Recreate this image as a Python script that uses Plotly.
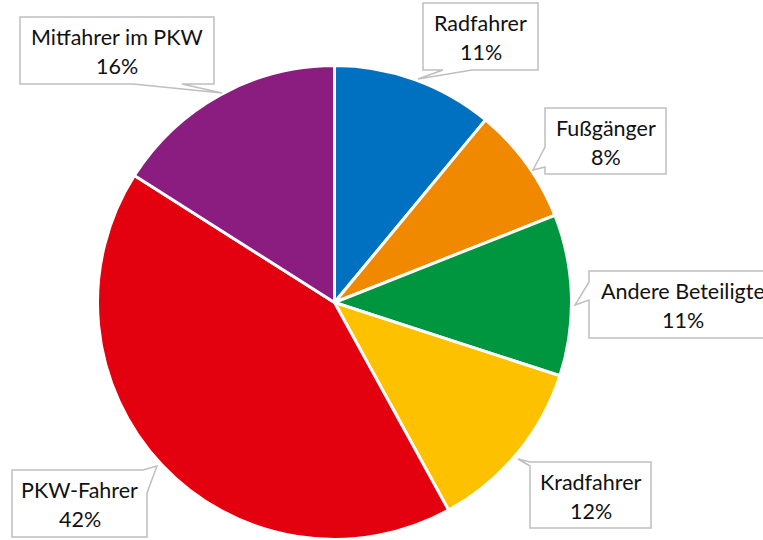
import plotly.graph_objects as go

# ---- data ----
categories = ["Radfahrer", "Fußgänger", "Andere Beteiligte", "Kradfahrer", "PKW-Fahrer", "Mitfahrer im PKW"]
values = [11, 8, 11, 12, 42, 16]
colors = ["#0070C0", "#F08800", "#00963F", "#FDC100", "#E3000F", "#8B1C80"]

W, H = 763, 540

# callout layout (pixel boxes and tail points), label layout only
boxes = {
    "Radfahrer": (423, 3, 538, 70),
    "Fußgänger": (545, 108, 666, 174),
    "Andere Beteiligte": (589, 271, 777, 338),
    "Kradfahrer": (530, 462, 651, 528),
    "PKW-Fahrer": (12, 470, 147, 537),
    "Mitfahrer im PKW": (20, 17, 214, 84),
}

def px(x):
    return x / W

def py(y):
    return 1 - y / H

def poly_path(pts):
    s = "M %f,%f " % (px(pts[0][0]), py(pts[0][1]))
    for x, y in pts[1:]:
        s += "L %f,%f " % (px(x), py(y))
    return s + "Z"

callout_pts = {
    "Radfahrer": [(423, 3), (538, 3), (538, 70), (472, 70), (418, 79), (443, 70), (423, 70)],
    "Fußgänger": [(545, 108), (666, 108), (666, 174), (545, 174), (545, 167), (533, 170), (545, 147)],
    "Andere Beteiligte": [(589, 271), (777, 271), (777, 338), (589, 338), (589, 300), (575, 305), (589, 282)],
    "Kradfahrer": [(530, 466), (518, 459), (530, 462), (651, 462), (651, 528), (530, 528), (530, 493)],
    "PKW-Fahrer": [(12, 470), (143, 470), (157, 466), (147, 493), (147, 537), (12, 537)],
    "Mitfahrer im PKW": [(20, 17), (214, 17), (214, 84), (182, 84), (222, 93), (133, 84), (20, 84)],
}

fig = go.Figure()
fig.add_trace(go.Pie(
    labels=categories,
    values=values,
    sort=False,
    direction="clockwise",
    rotation=0,
    marker=dict(colors=colors, line=dict(color="white", width=3)),
    textinfo="none",
    hoverinfo="label+percent",
    showlegend=False,
    domain=dict(x=[97.5 / W, 571.5 / W], y=[0.5 / H, 474.5 / H]),
))

shapes = []
annotations = []
font = dict(family="Lato, 'Open Sans', sans-serif", size=21.5, color="#111111")
for cat, val in zip(categories, values):
    x0, y0, x1, y1 = boxes[cat]
    shapes.append(dict(
        type="path", xref="paper", yref="paper",
        path=poly_path(callout_pts[cat]),
        fillcolor="white", line=dict(color="#BFBFBF", width=1.5), layer="above",
    ))
    cx = (x0 + x1) / 2
    annotations.append(dict(
        x=px(cx), y=py(y0 + 20), xref="paper", yref="paper",
        text=cat, showarrow=False, font=font, xanchor="center", yanchor="middle",
    ))
    annotations.append(dict(
        x=px(cx), y=py(y0 + 49), xref="paper", yref="paper",
        text=f"{val}%", showarrow=False, font=font, xanchor="center", yanchor="middle",
    ))

fig.update_layout(
    width=W, height=H,
    margin=dict(l=0, r=0, t=0, b=0),
    paper_bgcolor="white",
    plot_bgcolor="white",
    shapes=shapes,
    annotations=annotations,
)

fig.write_html(
    "out.html",
    config={"displayModeBar": False},
    post_script="document.body.style.margin='0px';document.body.style.overflow='hidden';",
)
